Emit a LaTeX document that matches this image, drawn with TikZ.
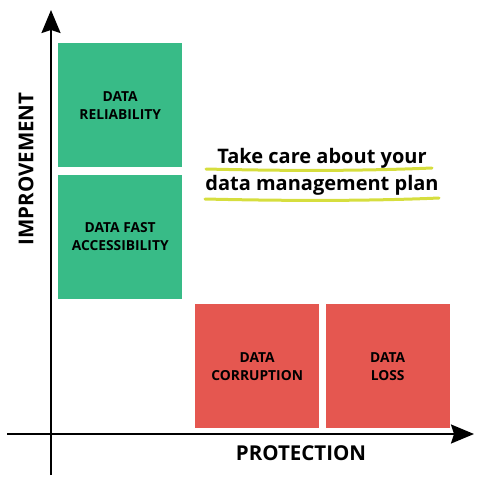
\documentclass[tikz,border=0pt]{standalone}
\usepackage{fontspec}
\setmainfont{Open Sans}
\usetikzlibrary{arrows.meta,positioning}

\definecolor{goodgreen}{RGB}{56,187,135}
\definecolor{badred}{RGB}{229,87,80}
\definecolor{marker}{RGB}{214,222,62}

\begin{document}
\begin{tikzpicture}[
    x=1pt, y=-1pt,
    node distance=7pt,
    quad/.style={rectangle, draw=none, align=center, minimum width=124pt, minimum height=124pt, inner sep=0pt, font=\bfseries\fontsize{13.8}{18}\selectfont},
    good/.style={quad, fill=goodgreen},
    bad/.style={quad, fill=badred},
    axis/.style={-{Stealth[length=23pt,width=19pt,inset=3pt]}, line width=2pt},
    axislabel/.style={font=\bfseries\fontsize{20.5}{24}\selectfont},
    hilite/.style={draw=marker, line width=3pt, line cap=round}
]
\useasboundingbox (0,0) rectangle (500,485);
% axes
\coordinate (ybot) at (51,475);
\coordinate (ytop) at (51,10);
\coordinate (xleft) at (7,434);
\coordinate (xright) at (474,434);
\draw[axis] (ybot) -- (ytop);
\draw[axis] (xleft) -- (xright);
\node[axislabel, rotate=90] (imp) at (26,169) {IMPROVEMENT};
\node[axislabel] (prot) at (301,453) {PROTECTION};

% quadrants
\node[good, anchor=north west] (rel) at (58,43) {DATA\\RELIABILITY};
\node[good, below=of rel] (acc) {DATA FAST\\ACCESSIBILITY};
\node[bad, anchor=north west] (corr) at (195,304) {DATA\\CORRUPTION};
\node[bad, right=6pt of corr] (loss) {DATA\\LOSS};

% note
\coordinate (u1a) at (206,169);
\coordinate (u1b) at (432,168);
\coordinate (u2a) at (205,199);
\coordinate (u2b) at (439,198);
\draw[hilite] (u1a) .. controls (290,171) and (360,171) .. (u1b);
\draw[hilite] (u2a) .. controls (290,201) and (370,201) .. (u2b);
\node[font=\fontsize{20}{27}\selectfont\bfseries, align=center] (note) at (322,172) {Take care about your\\data management plan};
\end{tikzpicture}
\end{document}
